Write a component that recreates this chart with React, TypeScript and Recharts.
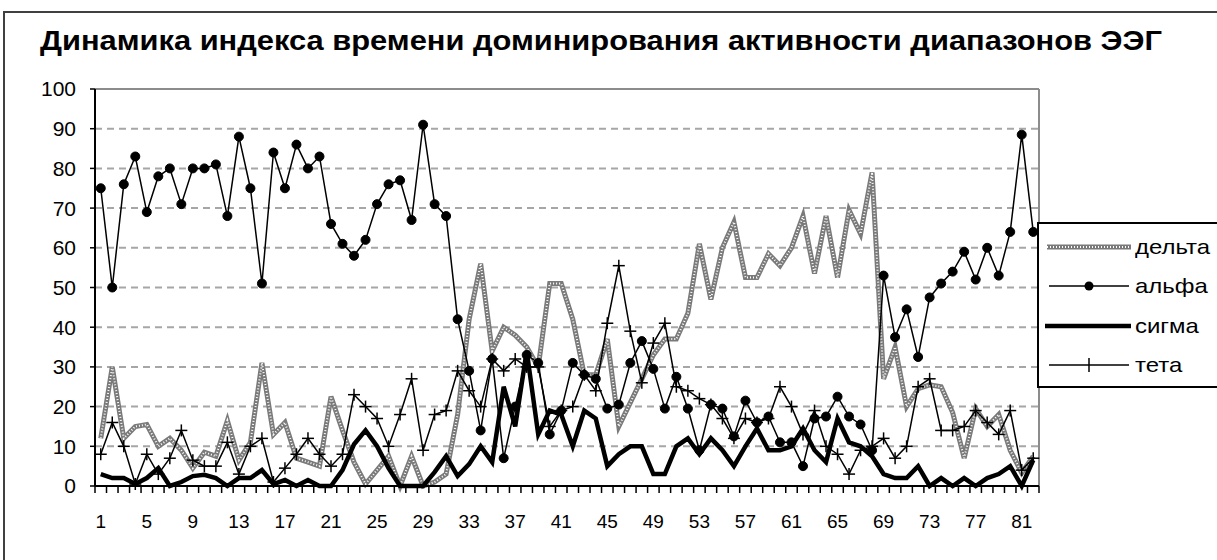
import React from 'react';
import { LineChart, Line, XAxis, YAxis, CartesianGrid, ReferenceLine, Legend } from 'recharts';

const categories: number[] = Array.from({ length: 82 }, (_, i) => i + 1);

const delta: number[] = [
  12, 30, 12, 15, 15.5, 10, 12, 9, 4.5, 8.5,
  7.5, 16.5, 6.5, 11, 31, 13, 16, 7, 6, 5,
  22.5, 14, 6, 0.5, 4, 7.5, 0, 7.5, 0, 1,
  3, 18, 42, 56, 34, 40, 38, 35, 30, 51,
  51, 42, 28, 28, 37, 15, 21, 27, 33, 37,
  37, 43.5, 61, 47, 60, 66.5, 52.5, 52.5, 58.5, 55.5,
  60, 68, 53.5, 68, 52.5, 69.5, 63.5, 79, 27, 35,
  20, 24.5, 25.5, 25, 18.5, 7, 19.5, 15, 18, 9,
  3.3, 7.5,
];

const alpha: number[] = [
  75, 50, 76, 83, 69, 78, 80, 71, 80, 80,
  81, 68, 88, 75, 51, 84, 75, 86, 80, 83,
  66, 61, 58, 62, 71, 76, 77, 67, 91, 71,
  68, 42, 29, 14, 32, 7, 20, 33, 31, 13,
  19, 31, 28, 27, 19.5, 20.5, 31, 36.5, 29.5, 19.5,
  27.5, 19.5, 9, 20.5, 19.5, 12.5, 21.5, 16, 17.5, 11,
  11, 5, 17, 17.5, 22.5, 17.5, 15.5, 9, 53, 37.5,
  44.5, 32.5, 47.5, 51, 54, 59, 52, 60, 53, 64,
  88.5, 64,
];

const sigma: number[] = [
  3, 2, 2, 0.5, 2, 4.5, 0, 1, 2.5, 2.8,
  2, 0, 2, 2, 4, 0.5, 1.5, 0, 1.5, 0,
  0, 4, 10.5, 14, 10, 4.5, 0, 0, 0, 3.5,
  7.5, 2.5, 5.5, 10, 6, 25, 15, 34, 13, 19,
  18, 10, 19, 17, 5, 8, 10, 10, 3, 3,
  10, 12, 8, 12, 9, 5, 10, 14.5, 9, 9,
  10, 14.5, 9, 6, 17, 11, 10, 7.5, 3, 2,
  2, 5, 0, 2, 0, 2, 0, 2, 3, 5,
  0, 6.5,
];

const theta: number[] = [
  8, 16, 10, 0.5, 8, 3, 7, 14, 6.5, 5,
  5, 11, 3, 10, 12, 1, 4.5, 8, 12, 8,
  5, 8, 23, 20, 17, 10, 18, 27, 9, 18,
  19, 29, 24, 20, 32, 29, 32, 30, 30, 15,
  19, 20, 28, 24, 41, 55.5, 39, 26, 36, 41,
  25, 24, 22, 20.5, 17, 12, 17, 16, 17, 25,
  20, 13, 19, 10, 8, 3, 9, 10, 12, 7,
  10, 25, 27, 14, 14, 15, 19, 16, 13, 19,
  4, 7,
];

const xLabelTicks: number[] = [1, 5, 9, 13, 17, 21, 25, 29, 33, 37, 41, 45, 49, 53, 57, 61, 65, 69, 73, 77, 81];
const yTicks: number[] = [0, 10, 20, 30, 40, 50, 60, 70, 80, 90, 100];
const seriesNames = { delta: 'дельта', alpha: 'альфа', sigma: 'сигма', theta: 'тета' };
const titleText = 'Динамика индекса времени доминирования активности диапазонов ЭЭГ';

const rows = categories.map((n, i) => ({
  n,
  delta: delta[i],
  alpha: alpha[i],
  sigma: sigma[i],
  theta: theta[i],
}));

// category boundaries (tick marks) + labelled category centres
const boundaryTicks: number[] = Array.from({ length: categories.length + 1 }, (_, i) => i + 0.5);
const allXTicks: number[] = [...boundaryTicks, ...xLabelTicks].sort((a, b) => a - b);

const FONT = '"Liberation Sans", Arial, sans-serif';

const XTick = (props: any) => {
  const { x, y, payload } = props;
  const v = payload.value;
  if (Number.isInteger(v)) {
    return (
      <text x={x} y={y + 34} textAnchor="middle" fontFamily={FONT} fontSize={19} fill="#000">
        {v}
      </text>
    );
  }
  return <line x1={x} x2={x} y1={y - 8} y2={y - 1} stroke="#000" strokeWidth={1.5} />;
};

const PlusDot = (props: any) => {
  const { cx, cy, index } = props;
  if (cx == null || cy == null) return <g key={`p${index}`} />;
  return (
    <g key={`p${index}`}>
      <line x1={cx - 6} x2={cx + 6} y1={cy} y2={cy} stroke="#000" strokeWidth={1.5} />
      <line x1={cx} x2={cx} y1={cy - 6} y2={cy + 6} stroke="#000" strokeWidth={1.5} />
    </g>
  );
};

const Swatch = ({ kind }: { kind: string }) => {
  return (
    <svg width={88} height={16} style={{ display: 'block' }}>
      {kind === 'delta' && (
        <>
          <line x1={2} x2={86} y1={8} y2={8} stroke="#7a7a7a" strokeWidth={5} />
          <line x1={2} x2={86} y1={8} y2={8} stroke="#fff" strokeWidth={2} strokeDasharray="1 2" />
        </>
      )}
      {kind === 'alpha' && (
        <>
          <line x1={4} x2={84} y1={8} y2={8} stroke="#000" strokeWidth={1.5} />
          <circle cx={44} cy={8} r={4.5} fill="#000" />
        </>
      )}
      {kind === 'sigma' && <line x1={0} x2={86} y1={8} y2={8} stroke="#000" strokeWidth={4.5} />}
      {kind === 'theta' && (
        <>
          <line x1={4} x2={84} y1={8} y2={8} stroke="#000" strokeWidth={1.5} />
          <line x1={44} x2={44} y1={1} y2={15} stroke="#000" strokeWidth={1.5} />
        </>
      )}
    </svg>
  );
};

const LegendBox = () => {
  const keys = ['delta', 'alpha', 'sigma', 'theta'];
  return (
    <div
      style={{
        width: 200,
        height: 166,
        border: '2px solid #000',
        background: '#fff',
        boxSizing: 'border-box',
        paddingTop: 3,
        paddingLeft: 6,
        fontFamily: FONT,
        fontSize: 21,
        color: '#000',
        textAlign: 'left',
      }}
    >
      {keys.map((k) => (
        <div key={k} style={{ display: 'flex', alignItems: 'center', height: 39.5 }}>
          <Swatch kind={k} />
          <span style={{ marginLeft: 2, display: 'inline-block', transform: 'scaleX(1.14)', transformOrigin: 'left center' }}>
            {(seriesNames as any)[k]}
          </span>
        </div>
      ))}
    </div>
  );
};

export default function App() {
  return (
    <div
      style={{
        position: 'absolute',
        left: 0,
        top: 0,
        width: 1217,
        height: 560,
        overflow: 'hidden',
        background: '#fff',
      }}
    >
      <div
        style={{
          position: 'absolute',
          left: 3,
          top: 11,
          width: 1400,
          height: 800,
          border: '2px solid #404040',
        }}
      />
      <svg style={{ position: 'absolute', left: 0, top: 0 }} width={1217} height={70}>
        <text
          x={40}
          y={50}
          fontFamily={FONT}
          fontWeight="bold"
          fontSize={27}
          fill="#000"
          textLength={1122}
          lengthAdjust="spacingAndGlyphs"
        >
          {titleText}
        </text>
      </svg>
      <div style={{ position: 'absolute', left: 0, top: 0 }}>
        <LineChart
          width={1217}
          height={560}
          data={rows}
          margin={{ top: 89, right: 178, left: 35, bottom: 30 }}
        >
          <CartesianGrid
            vertical={false}
            stroke="#a6a6a6"
            strokeWidth={2}
            strokeDasharray="7 5"
          />
          <XAxis
            dataKey="n"
            type="number"
            domain={[0.5, 82.5]}
            ticks={allXTicks}
            interval={0}
            tickLine={false}
            axisLine={{ stroke: '#000', strokeWidth: 2 }}
            tick={<XTick />}
            height={44}
          />
          <YAxis
            type="number"
            domain={[0, 100]}
            ticks={yTicks}
            interval={0}
            width={60}
            tickSize={5}
            tickMargin={14}
            axisLine={{ stroke: '#000', strokeWidth: 2 }}
            tickLine={{ stroke: '#000', strokeWidth: 1.5 }}
            tick={{ fontSize: 21, fill: '#000', fontFamily: FONT }}
          />
          <ReferenceLine y={100} stroke="#8c8c8c" strokeWidth={2} />
          <ReferenceLine x={82.5} stroke="#8c8c8c" strokeWidth={2} />
          <Line
            type="linear"
            dataKey="delta"
            name={seriesNames.delta}
            stroke="#7a7a7a"
            strokeWidth={5}
            dot={false}
            activeDot={false}
            isAnimationActive={false}
          />
          <Line
            type="linear"
            dataKey="delta"
            name="delta-texture"
            legendType="none"
            stroke="#ffffff"
            strokeWidth={2}
            strokeDasharray="1 2"
            dot={false}
            activeDot={false}
            isAnimationActive={false}
          />
          <Line
            type="linear"
            dataKey="alpha"
            name={seriesNames.alpha}
            stroke="#000"
            strokeWidth={1.5}
            dot={{ r: 4.5, fill: '#000', stroke: '#000', strokeWidth: 1 }}
            activeDot={false}
            isAnimationActive={false}
          />
          <Line
            type="linear"
            dataKey="sigma"
            name={seriesNames.sigma}
            stroke="#000"
            strokeWidth={4.5}
            dot={false}
            activeDot={false}
            isAnimationActive={false}
          />
          <Line
            type="linear"
            dataKey="theta"
            name={seriesNames.theta}
            stroke="#000"
            strokeWidth={1.5}
            dot={<PlusDot />}
            activeDot={false}
            isAnimationActive={false}
          />
          <Legend
            layout="horizontal"
            verticalAlign="middle"
            align="center"
            content={() => <LegendBox />}
            wrapperStyle={{ position: 'absolute', left: 1037, top: 222, width: 200, height: 166, right: 'auto', bottom: 'auto' }}
          />
        </LineChart>
      </div>
    </div>
  );
}
